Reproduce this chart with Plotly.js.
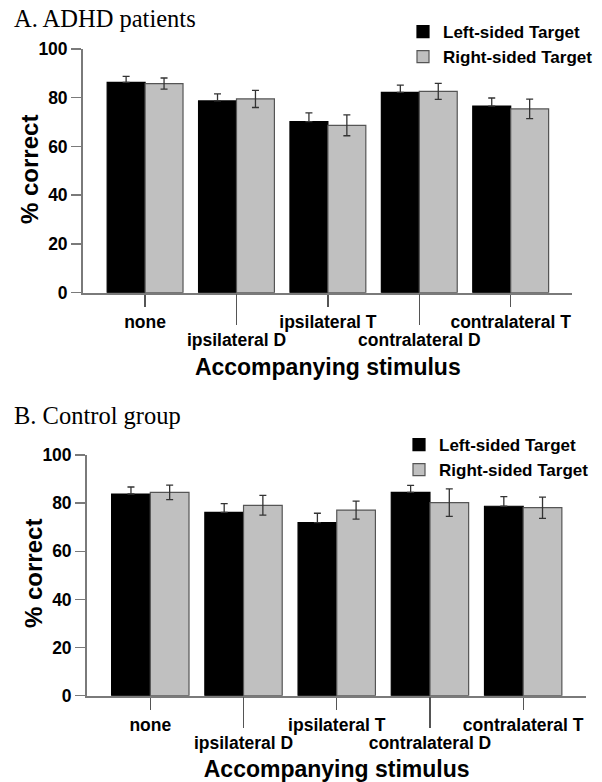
<!DOCTYPE html>
<html>
<head>
<meta charset="utf-8">
<script src="https://cdn.plot.ly/plotly-3.0.1.min.js"></script>
<style>html,body{margin:0;padding:0;background:#fff;}#chart{width:602px;height:782px;}</style>
</head>
<body>
<div id="chart"></div>
<script>
var categories = ["none", "ipsilateral D", "ipsilateral T", "contralateral D", "contralateral T"];
var seriesNames = ["Left-sided Target", "Right-sided Target"];

var adhdLeft = [86.3, 78.7, 70.2, 82.2, 76.6];
var adhdLeftErr = [2.5, 2.9, 3.6, 3.0, 3.3];
var adhdRight = [85.8, 79.5, 68.7, 82.6, 75.4];
var adhdRightErr = [2.3, 3.5, 4.3, 3.3, 4.0];

var ctrlLeft = [83.8, 76.2, 71.9, 84.5, 78.7];
var ctrlLeftErr = [2.9, 3.6, 3.9, 2.9, 4.0];
var ctrlRight = [84.5, 79.1, 77.1, 80.2, 78.1];
var ctrlRightErr = [3.0, 4.1, 3.7, 5.7, 4.4];

var panelTitles = ["A. ADHD patients", "B. Control group"];
var yTitle = "% correct";
var xTitle = "Accompanying stimulus";
var yTicks = [0, 20, 40, 60, 80, 100];

var idx = categories.map(function (c, i) { return i; });
var evenIdx = idx.filter(function (i) { return i % 2 === 0; });
var oddIdx = idx.filter(function (i) { return i % 2 === 1; });
var evenText = evenIdx.map(function (i) { return categories[i]; });
var oddText = oddIdx.map(function (i) { return categories[i]; });

var SANS = "Liberation Sans, Arial, sans-serif";
var SERIF = "Liberation Serif, Times New Roman, serif";
var BLACK = "#000000";
var GRAY = "#c0c0c0";
var AXIS = "#7a7a7a";

// Left bars: the lower half of the error bar is hidden inside the black bar in the original
function barTrace(name, vals, errs, upperOnly, color, lineColor, xa, ya, legend) {
  var err = { type: "data", array: errs, visible: true, color: "#333333", thickness: 1.3, width: 3.5 };
  if (upperOnly) {
    err.symmetric = false;
    err.arrayminus = errs.map(function () { return 0; });
  }
  return {
    type: "bar",
    name: name,
    x: idx,
    y: vals,
    xaxis: xa,
    yaxis: ya,
    legend: legend,
    showlegend: true,
    marker: { color: color, line: { color: lineColor, width: 1.2 } },
    error_y: err,
    hoverinfo: "skip"
  };
}

var data = [
  barTrace(seriesNames[0], adhdLeft, adhdLeftErr, true, BLACK, BLACK, "x", "y", "legend"),
  barTrace(seriesNames[1], adhdRight, adhdRightErr, false, GRAY, "#555555", "x", "y", "legend"),
  barTrace(seriesNames[0], ctrlLeft, ctrlLeftErr, true, BLACK, BLACK, "x2", "y2", "legend2"),
  barTrace(seriesNames[1], ctrlRight, ctrlRightErr, false, GRAY, "#555555", "x2", "y2", "legend2"),
  { type: "scatter", x: [], y: [], xaxis: "x3", yaxis: "y", showlegend: false, hoverinfo: "skip" },
  { type: "scatter", x: [], y: [], xaxis: "x4", yaxis: "y2", showlegend: false, hoverinfo: "skip" }
];

var XR = [-0.676, 4.674];

function yAxis(domain, anchor) {
  return {
    domain: domain, anchor: anchor, range: [0, 100], fixedrange: true,
    tickvals: yTicks, ticktext: yTicks.map(String),
    ticks: "outside", ticklen: 10, tickwidth: 1.5, tickcolor: AXIS,
    showline: true, linecolor: AXIS, linewidth: 2.2,
    showgrid: false, zeroline: false,
    tickfont: { family: SANS, size: 17.5, color: "#000", weight: "bold" },
    automargin: false
  };
}
function xAxisShort(domain, anchor) {
  return {
    domain: domain, anchor: anchor, range: XR, fixedrange: true,
    tickvals: evenIdx, ticktext: evenText,
    ticks: "outside", ticklen: 12, tickwidth: 1.3, tickcolor: "#555",
    showline: true, linecolor: AXIS, linewidth: 2.6,
    showgrid: false, zeroline: false,
    tickfont: { family: SANS, size: 17.5, color: "#000", weight: "bold" },
    automargin: false
  };
}
function xAxisLong(overlay, anchor) {
  return {
    overlaying: overlay, anchor: anchor, range: XR, fixedrange: true,
    tickvals: oddIdx, ticktext: oddText,
    ticks: "outside", ticklen: 31, tickwidth: 1.3, tickcolor: "#555",
    showline: false, showgrid: false, zeroline: false,
    tickfont: { family: SANS, size: 17.5, color: "#000", weight: "bold" },
    title: { text: xTitle, font: { family: SANS, size: 23, color: "#000", weight: "bold" }, standoff: 10 },
    automargin: false
  };
}

var topX = [83.3 / 602, 572.3 / 602];
var topY = [1 - 292.7 / 782, 1 - 49 / 782];
var botX = [87.3 / 602, 586 / 602];
var botY = [1 - 695.7 / 782, 1 - 455 / 782];

function legendAt(xpx, ypx) {
  return {
    x: xpx / 602, xanchor: "left", y: 1 - ypx / 782, yanchor: "top",
    bgcolor: "rgba(0,0,0,0)", borderwidth: 0, tracegroupgap: 0,
    itemwidth: 30, traceorder: "normal",
    font: { family: SANS, size: 17, color: "#000", weight: "bold" }
  };
}

var layout = {
  width: 602, height: 782, autosize: false,
  margin: { l: 0, r: 0, t: 0, b: 0, pad: 0 },
  paper_bgcolor: "#ffffff", plot_bgcolor: "#ffffff",
  barmode: "group", bargap: 0.17, bargroupgap: 0,
  showlegend: true,
  font: { family: SANS, color: "#000" },
  xaxis: xAxisShort(topX, "y"),
  yaxis: yAxis(topY, "x"),
  xaxis2: xAxisShort(botX, "y2"),
  yaxis2: yAxis(botY, "x2"),
  xaxis3: xAxisLong("x", "y"),
  xaxis4: xAxisLong("x2", "y2"),
  legend: legendAt(403, 14),
  legend2: legendAt(399, 427),
  annotations: [
    { text: panelTitles[0], xref: "paper", yref: "paper", x: 12 / 602, y: 1 - 18.5 / 782,
      xanchor: "left", yanchor: "middle", showarrow: false,
      font: { family: SERIF, size: 24.5, color: "#000" } },
    { text: panelTitles[1], xref: "paper", yref: "paper", x: 12 / 602, y: 1 - 415 / 782,
      xanchor: "left", yanchor: "middle", showarrow: false,
      font: { family: SERIF, size: 24.5, color: "#000" } },
    { text: yTitle, xref: "paper", yref: "paper", x: 30 / 602, y: 1 - 170 / 782,
      xanchor: "center", yanchor: "middle", textangle: -90, showarrow: false,
      font: { family: SANS, size: 24, color: "#000", weight: "bold" } },
    { text: yTitle, xref: "paper", yref: "paper", x: 33 / 602, y: 1 - 574 / 782,
      xanchor: "center", yanchor: "middle", textangle: -90, showarrow: false,
      font: { family: SANS, size: 24, color: "#000", weight: "bold" } }
  ]
};

Plotly.newPlot("chart", data, layout, { staticPlot: true, displayModeBar: false });
</script>
</body>
</html>
